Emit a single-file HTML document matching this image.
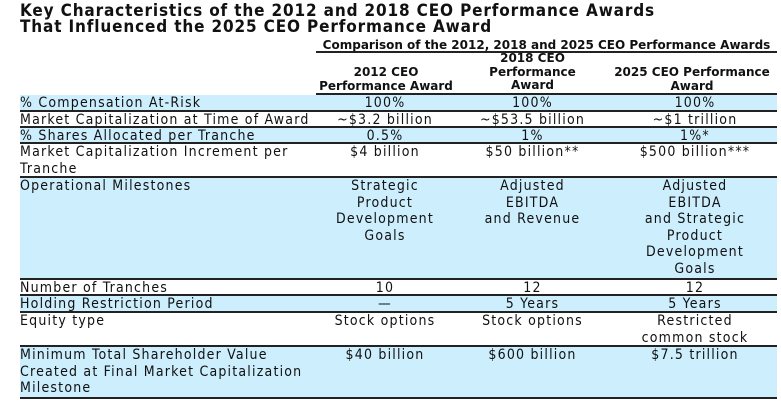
<!DOCTYPE html>
<html><head><meta charset="utf-8"><style>
*{margin:0;padding:0;box-sizing:border-box}
body{width:781px;height:410px;background:#fff;position:relative;overflow:hidden;font-family:"DejaVu Sans Condensed","DejaVu Sans","Liberation Sans",sans-serif;color:#111}
.t{position:absolute;left:20px;font-weight:bold;font-size:17px;line-height:16px;letter-spacing:0.85px}
.hd{position:absolute;font-family:"DejaVu Sans",sans-serif;font-weight:bold;font-size:12px;line-height:13.5px;text-align:center;white-space:nowrap}
.row{position:absolute;left:20px;width:757px;border-bottom:2px solid #222}
.b{background:#cdeefd}
.c{position:absolute;top:0;font-size:14px;line-height:16.5px;text-align:center;white-space:nowrap;letter-spacing:1.2px}
.l{left:0;text-align:left;width:292px;white-space:normal}
.c1{left:290px;width:150px}.c2{left:440px;width:145px}.c3{left:590px;width:170px}
</style></head><body>
<div class="t" style="top:3px">Key Characteristics of the 2012 and 2018 CEO Performance Awards</div>
<div class="t" style="top:19px">That Influenced the 2025 CEO Performance Award</div>
<div class="hd" style="left:316px;width:461px;top:39px;border-bottom:2px solid #222;line-height:12px">Comparison of the 2012, 2018 and 2025 CEO Performance Awards</div>
<div style="position:absolute;left:316px;width:461px;top:93px;border-top:2px solid #222"></div>
<div class="hd" style="left:316px;width:140px;top:66px">2012 CEO<br>Performance Award</div>
<div class="hd" style="left:470px;width:125px;top:52px">2018 CEO<br>Performance<br>Award</div>
<div class="hd" style="left:607px;width:170px;top:66px">2025 CEO Performance<br>Award</div>

<div class="row b" style="top:95px;height:17px"><div class="c l">% Compensation At-Risk</div><div class="c c1">100%</div><div class="c c2">100%</div><div class="c c3">100%</div></div>
<div class="row" style="top:112px;height:16px"><div class="c l">Market Capitalization at Time of Award</div><div class="c c1">~$3.2 billion</div><div class="c c2">~$53.5 billion</div><div class="c c3">~$1 trillion</div></div>
<div class="row b" style="top:128px;height:16px"><div class="c l">% Shares Allocated per Tranche</div><div class="c c1">0.5%</div><div class="c c2">1%</div><div class="c c3">1%*</div></div>
<div class="row" style="top:144px;height:34px"><div class="c l">Market Capitalization Increment per Tranche</div><div class="c c1">$4 billion</div><div class="c c2">$50 billion**</div><div class="c c3">$500 billion***</div></div>
<div class="row b" style="top:178px;height:102px"><div class="c l">Operational Milestones</div><div class="c c1">Strategic<br>Product<br>Development<br>Goals</div><div class="c c2">Adjusted<br>EBITDA<br>and Revenue</div><div class="c c3">Adjusted<br>EBITDA<br>and Strategic<br>Product<br>Development<br>Goals</div></div>
<div class="row" style="top:280px;height:16px"><div class="c l">Number of Tranches</div><div class="c c1">10</div><div class="c c2">12</div><div class="c c3">12</div></div>
<div class="row b" style="top:296px;height:17px"><div class="c l">Holding Restriction Period</div><div class="c c1">—</div><div class="c c2">5 Years</div><div class="c c3">5 Years</div></div>
<div class="row" style="top:313px;height:34px"><div class="c l">Equity type</div><div class="c c1">Stock options</div><div class="c c2">Stock options</div><div class="c c3">Restricted<br>common stock</div></div>
<div class="row b" style="top:347px;height:52px"><div class="c l">Minimum Total Shareholder Value Created at Final Market Capitalization Milestone</div><div class="c c1">$40 billion</div><div class="c c2">$600 billion</div><div class="c c3">$7.5 trillion</div></div>
</body></html>
